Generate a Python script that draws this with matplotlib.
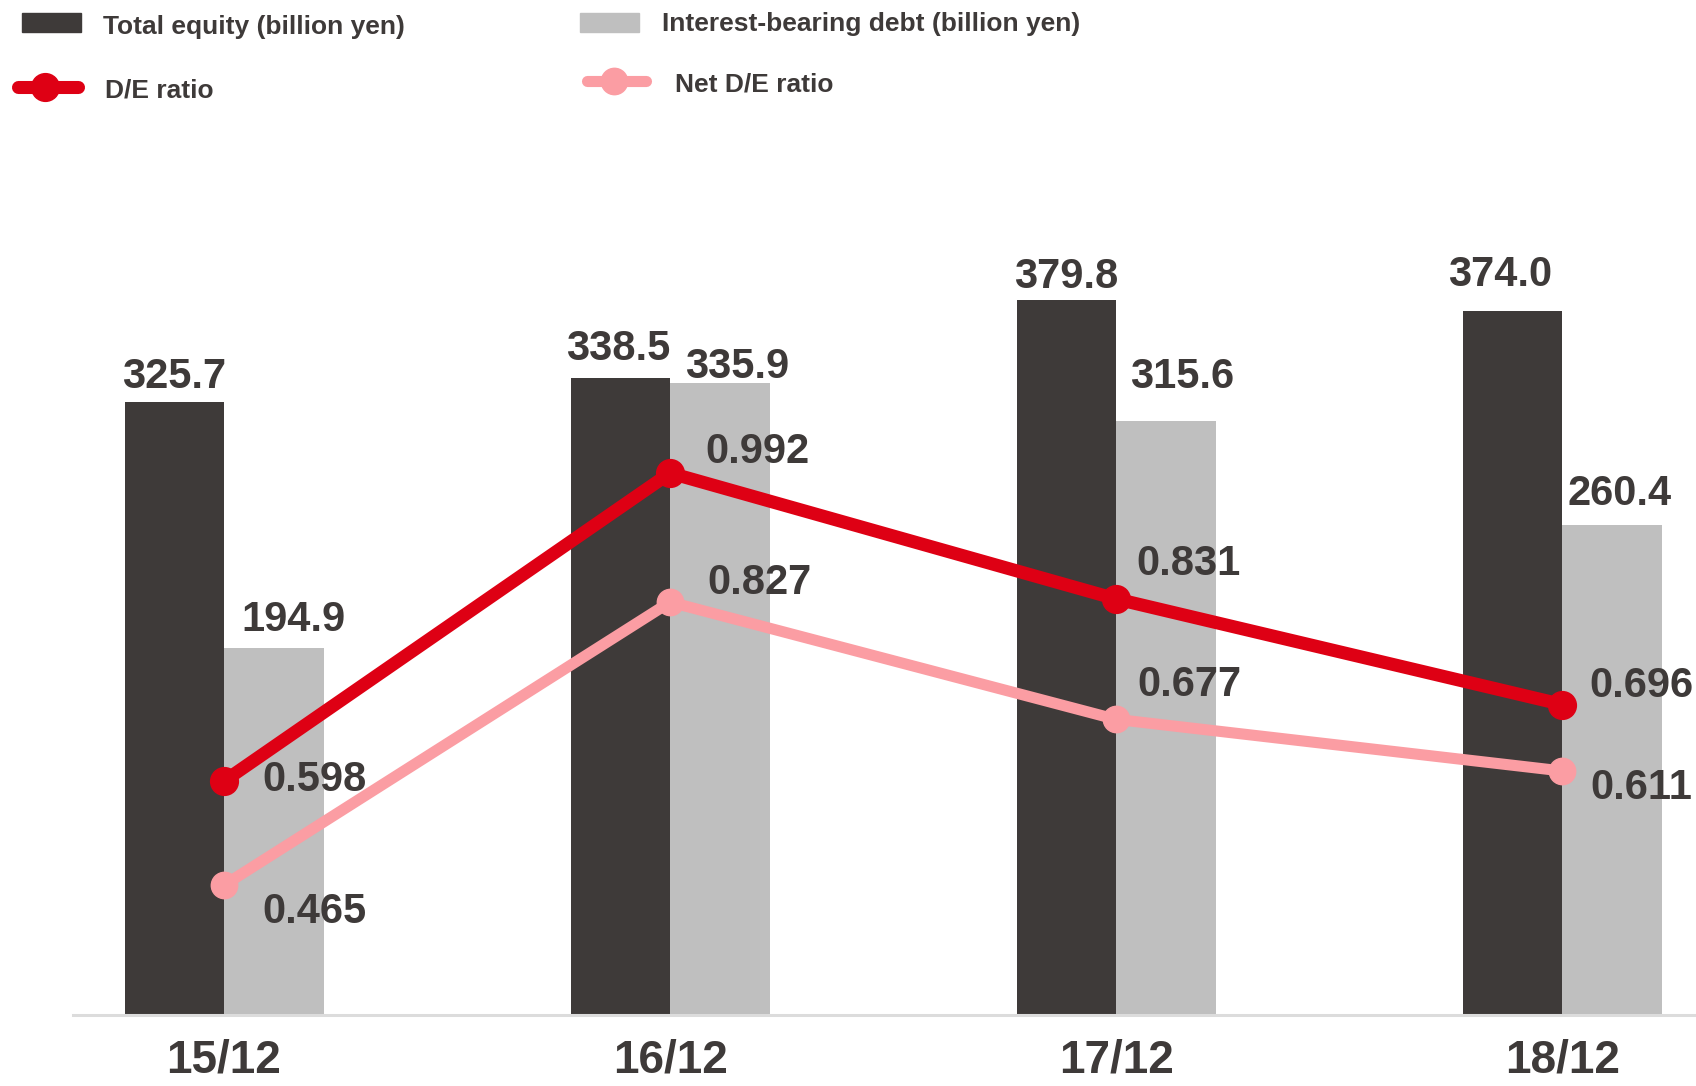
import matplotlib.pyplot as plt
from matplotlib.patches import Rectangle
from matplotlib.lines import Line2D

# data
periods = ["15/12", "16/12", "17/12", "18/12"]
equity = [325.7, 338.5, 379.8, 374.0]
debt = [194.9, 335.9, 315.6, 260.4]
de_ratio = [0.598, 0.992, 0.831, 0.696]
net_de_ratio = [0.465, 0.827, 0.677, 0.611]

DARK = "#3e3a39"
GRAY = "#bfbfbf"
RED = "#de0014"
PINK = "#fb9da3"
TXT = "#3e3a39"
BOLD = ["Liberation Sans", "DejaVu Sans"]

fig = plt.figure(figsize=(16.96, 10.86), dpi=100)
ax = fig.add_axes([73 / 1696, 1 - 1015 / 1086, 1 - 73 / 1696, 865 / 1086])

x = list(range(len(periods)))
w = 0.223
ax.bar([i - w / 2 for i in x], equity, width=w, color=DARK, zorder=2)
ax.bar([i + w / 2 for i in x], debt, width=w, color=GRAY, zorder=2)
ax.set_xlim(-0.3386, 3.300)
ax.set_ylim(0, 459.4)

for s in ["top", "left", "right"]:
    ax.spines[s].set_visible(False)
ax.spines["bottom"].set_color("#dcdcdc")
ax.spines["bottom"].set_linewidth(2.2)
ax.set_yticks([])
ax.set_xticks(x)
ax.set_xticklabels(periods, family=BOLD, fontweight="bold", fontsize=33, color=TXT)
ax.tick_params(axis="x", length=0, pad=17)

eq_off = [(0, 17.5), (-1.6, 20.5), (0, 16.5), (-8.6, 26)]
debt_off = [(14, 20.5), (12.5, 11.2), (11.7, 31.4), (5.5, 22)]
for i in x:
    ax.annotate(f"{equity[i]:.1f}", (i - w / 2, equity[i]), xytext=eq_off[i],
                textcoords="offset points", ha="center", va="center",
                fontsize=30, fontweight="bold", color=TXT, family=BOLD)
    ax.annotate(f"{debt[i]:.1f}", (i + w / 2, debt[i]), xytext=debt_off[i],
                textcoords="offset points", ha="center", va="center",
                fontsize=30, fontweight="bold", color=TXT, family=BOLD)

ax2 = ax.twinx()
ax2.set_ylim(0.299, 1.405)
ax2.set_yticks([])
for s in ["top", "left", "right", "bottom"]:
    ax2.spines[s].set_visible(False)
ax2.plot(x, net_de_ratio, color=PINK, lw=8, marker="o", ms=19, solid_capstyle="round", zorder=3)
ax2.plot(x, de_ratio, color=RED, lw=9.4, marker="o", ms=20, solid_capstyle="round", zorder=4)

de_off = [(65.4, 0.5), (63.1, 15.3), (52.2, 25.5), (56.9, 13.5)]
net_off = [(65.4, -19), (64.7, 13.5), (53, 24.5), (56.9, -12)]
for i in x:
    ax2.annotate(f"{de_ratio[i]:.3f}", (i, de_ratio[i]), xytext=de_off[i],
                 textcoords="offset points", ha="center", va="center",
                 fontsize=30, fontweight="bold", color=TXT, family=BOLD, zorder=5)
    ax2.annotate(f"{net_de_ratio[i]:.3f}", (i, net_de_ratio[i]), xytext=net_off[i],
                 textcoords="offset points", ha="center", va="center",
                 fontsize=30, fontweight="bold", color=TXT, family=BOLD, zorder=5)

# legend drawn by hand in figure pixels
def fx(px):
    return px / 1696


def fy(py):
    return 1 - py / 1086


fig.add_artist(Rectangle((fx(22), fy(32)), fx(59), 19 / 1086, color=DARK, transform=fig.transFigure))
fig.add_artist(Rectangle((fx(580), fy(32)), fx(59), 19 / 1086, color=GRAY, transform=fig.transFigure))
fig.add_artist(Line2D([fx(18), fx(78)], [fy(87), fy(87)], color=RED, lw=9.4,
                      solid_capstyle="round", transform=fig.transFigure))
fig.add_artist(Line2D([fx(45)], [fy(87)], color=RED, marker="o", ms=20, transform=fig.transFigure))
fig.add_artist(Line2D([fx(587), fx(646)], [fy(81), fy(81)], color=PINK, lw=8,
                      solid_capstyle="round", transform=fig.transFigure))
fig.add_artist(Line2D([fx(614)], [fy(81)], color=PINK, marker="o", ms=19, transform=fig.transFigure))

leg_kw = dict(fontsize=19, fontweight="bold", color=TXT, family=BOLD, va="center", ha="left")
fig.text(fx(103), fy(27), "Total equity (billion yen)", **leg_kw)
fig.text(fx(662), fy(24), "Interest-bearing debt (billion yen)", **leg_kw)
fig.text(fx(105), fy(90), "D/E ratio", **leg_kw)
fig.text(fx(675), fy(84), "Net D/E ratio", **leg_kw)

fig.savefig("out.png", dpi=100)
